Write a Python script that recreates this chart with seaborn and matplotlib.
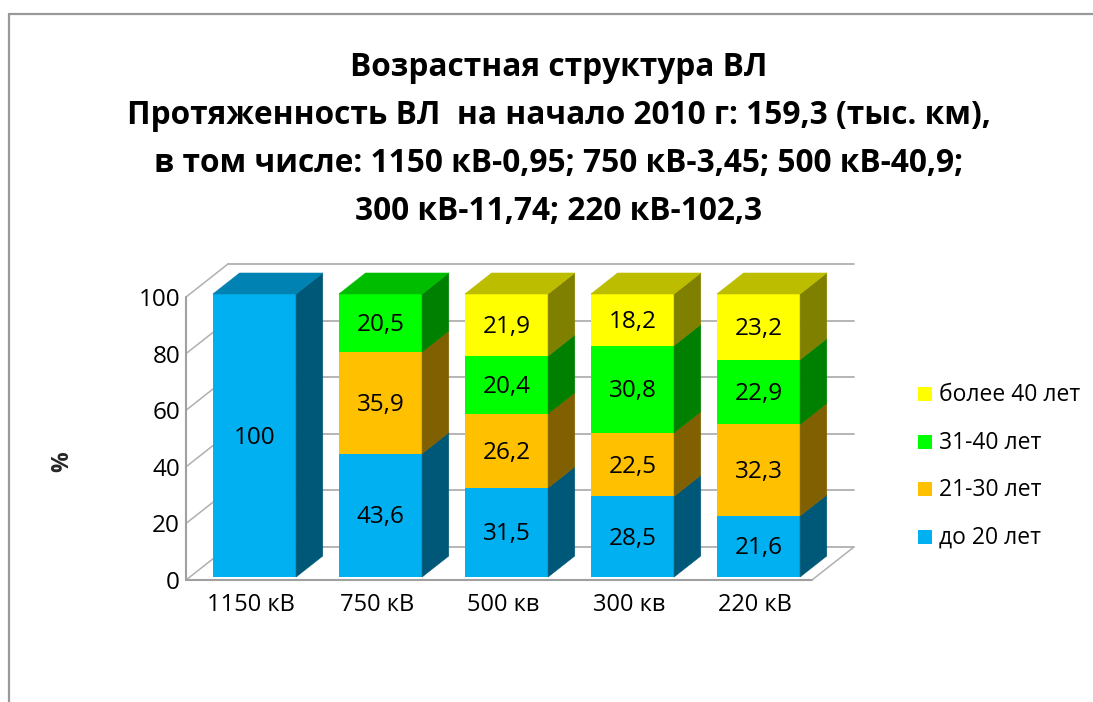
import numpy as np
import pandas as pd
import seaborn as sns
import matplotlib
matplotlib.use("Agg")
import matplotlib.pyplot as plt
from matplotlib.patches import Polygon, Rectangle
from matplotlib.lines import Line2D
import matplotlib.colors as mcolors

# ---------------- data ----------------
categories = ["1150 кВ", "750 кВ", "500 кв", "300 кв", "220 кВ"]
age_groups = ["до 20 лет", "21-30 лет", "31-40 лет", "более 40 лет"]
upto20 = [100, 43.6, 31.5, 28.5, 21.6]
y21_30 = [0, 35.9, 26.2, 22.5, 32.3]
y31_40 = [0, 20.5, 20.4, 30.8, 22.9]
over40 = [0, 0, 21.9, 18.2, 23.2]
value_labels = [["100", "43,6", "31,5", "28,5", "21,6"],
                ["", "35,9", "26,2", "22,5", "32,3"],
                ["", "20,5", "20,4", "30,8", "22,9"],
                ["", "", "21,9", "18,2", "23,2"]]
yticks = [0, 20, 40, 60, 80, 100]
colors = ["#00B0F0", "#FFC000", "#00FF00", "#FFFF00"]
title_lines = ["Возрастная структура ВЛ",
               "Протяженность ВЛ  на начало 2010 г: 159,3 (тыс. км),",
               "в том числе: 1150 кВ-0,95; 750 кВ-3,45; 500 кВ-40,9;",
               "300 кВ-11,74; 220 кВ-102,3"]
ylabel = "%"

# ---------------- style ----------------
sns.set_theme(style="white")
plt.rcParams["font.family"] = ["Open Sans", "DejaVu Sans"]

W, H = 1093, 702
fig = plt.figure(figsize=(W / 100, H / 100), dpi=100)
fig.patch.set_facecolor("white")

# pixel geometry of the plot (bar front plane)
SX, SY = 126.0, 2.83          # px per category / px per percent
X0, Y0 = 254.5, 577.0         # pixel of (category 0, value 0)
KX = 1.27                     # oblique x shift per px of depth
L, R, T, B = 120, 900, 230, 640
ax = fig.add_axes([L / W, 1 - B / H, (R - L) / W, (B - T) / H])

def P(x, y, d):
    return (x + d * KX / SX, y + d / SY)

layers = [upto20, y21_30, y31_40, over40]
cum = np.cumsum(np.array(layers, dtype=float), axis=0)
bar_w = 0.66
D_FRONT_AX, D_BACK, D_BAR = -3, 30, 21
x_left, x_right = -0.513, 4.455
grid_col = "#B0B0B0"
FS_NUM, FS_CAT, FS_LEG = 17.5, 17, 16.5

# back wall gridlines, diagonals, floor
for v in yticks:
    a = P(x_left, v, D_BACK); b = P(x_right, v, D_BACK)
    ax.plot([a[0], b[0]], [a[1], b[1]], color=grid_col, lw=1.3, zorder=0.5)
    c = P(x_left, v, D_FRONT_AX)
    ax.plot([c[0], a[0]], [c[1], a[1]], color=grid_col, lw=1.1, zorder=0.5)
    ax.text(c[0] - 6 / SX, c[1] - 3 / SY, str(v), ha="right", va="center",
            fontsize=FS_NUM, color="black")
a = P(x_left, 0, D_FRONT_AX); b = P(x_left, 100, D_FRONT_AX)
ax.plot([a[0], b[0]], [a[1], b[1]], color="#A0A0A0", lw=1.5, zorder=0.6)
c = P(x_right, 0, D_FRONT_AX); d = P(x_right, 0, D_BACK)
ax.plot([a[0], c[0]], [a[1], c[1]], color="#A0A0A0", lw=1.5, zorder=0.6)
ax.plot([c[0], d[0]], [c[1], d[1]], color=grid_col, lw=1.1, zorder=0.6)

# front faces: seaborn bars of cumulative heights, drawn top layer first
for j in range(len(layers) - 1, -1, -1):
    df = pd.DataFrame({"cat": categories, "val": cum[j]})
    sns.barplot(data=df, x="cat", y="val", color=colors[j], saturation=1,
                width=bar_w, linewidth=0, errorbar=None, ax=ax, zorder=1)

def shade(c, f):
    r, g, b = mcolors.to_rgb(c)
    return (r * f, g * f, b * f)

# side and top faces
for i in range(len(categories)):
    xr = i + bar_w / 2
    xl = i - bar_w / 2
    top_j = max(j for j in range(len(layers)) if layers[j][i] > 0)
    for j in range(len(layers)):
        if layers[j][i] <= 0:
            continue
        bot = cum[j][i] - layers[j][i]
        tp = cum[j][i]
        side = [P(xr, bot, 0), P(xr, bot, D_BAR), P(xr, tp, D_BAR), P(xr, tp, 0)]
        sc = shade(colors[j], 0.5)
        ax.add_patch(Polygon(side, closed=True, facecolor=sc, edgecolor=sc,
                             lw=0.4, zorder=1.2))
        if j == top_j:
            top = [P(xl, tp, 0), P(xr, tp, 0), P(xr, tp, D_BAR), P(xl, tp, D_BAR)]
            tc = shade(colors[j], 0.74)
            ax.add_patch(Polygon(top, closed=True, facecolor=tc, edgecolor=tc,
                                 lw=0.4, zorder=1.2))
        ax.text(i, bot + layers[j][i] / 2 - 2 / SY, value_labels[j][i],
                ha="center", va="center", fontsize=FS_NUM, color="black",
                zorder=3)
    lx, ly = P(i, -9.0, D_FRONT_AX)
    ax.text(lx, ly, categories[i], ha="center", va="center", fontsize=FS_CAT,
            color="black")

ax.set_xlim((L - X0) / SX, (R - X0) / SX)
ax.set_ylim((Y0 - B) / SY, (Y0 - T) / SY)
ax.set_xticks([]); ax.set_yticks([])
ax.set_xlabel(""); ax.set_ylabel("")
for s in ax.spines.values():
    s.set_visible(False)
ax.patch.set_alpha(0)

def fx(x):
    return x / W
def fy(y):
    return 1 - y / H

# title
baselines = [76, 124, 172, 220]
for line, yb in zip(title_lines, baselines):
    fig.text(fx(559), fy(yb), line, ha="center", va="baseline",
             fontsize=22.8, fontweight="bold", color="black")

# y label
fig.text(fx(62), fy(462), ylabel, ha="center", va="center", rotation=90,
         fontsize=16.5, fontweight="bold")

# legend (top to bottom: более 40, 31-40, 21-30, до 20)
leg_y = [394, 442, 489, 537]
for k, yc in enumerate(leg_y):
    j = len(age_groups) - 1 - k
    fig.add_artist(Rectangle((fx(918), fy(yc + 7)), 14 / W, 14 / H,
                             transform=fig.transFigure, facecolor=colors[j],
                             edgecolor="none"))
    fig.text(fx(939), fy(yc + 1), age_groups[j], ha="left", va="center",
             fontsize=FS_LEG, color="black")

# chart border
fig.add_artist(Line2D([fx(9), fx(W + 5)], [fy(14), fy(14)],
                      transform=fig.transFigure, color="#999999", lw=1.6))
fig.add_artist(Line2D([fx(9), fx(9)], [fy(14), fy(H + 5)],
                      transform=fig.transFigure, color="#999999", lw=1.6))

fig.savefig("out.png", dpi=100, facecolor="white")
